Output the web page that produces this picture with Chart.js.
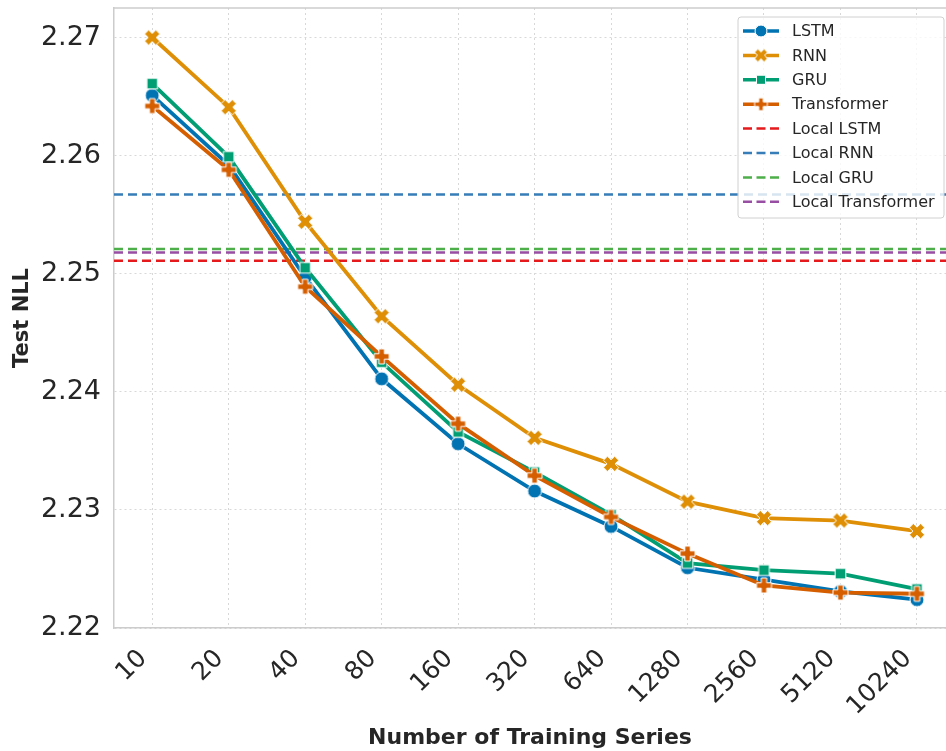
<!DOCTYPE html>
<html>
<head>
<meta charset="utf-8">
<script src="https://cdn.jsdelivr.net/npm/chart.js@4.4.1/dist/chart.umd.min.js"></script>
<style>
  html, body { margin: 0; padding: 0; background: #fff; overflow: hidden; }
</style>
</head>
<body>
<canvas id="chart" width="946" height="751"></canvas>
<script>
// ===== Data =====
const categories = ['10', '20', '40', '80', '160', '320', '640', '1280', '2560', '5120', '10240'];
const lstmValues        = [2.2651, 2.2592, 2.2497, 2.2411, 2.2356, 2.2316, 2.2286, 2.2251, 2.2241, 2.2231, 2.2224];
const rnnValues         = [2.2700, 2.2641, 2.2544, 2.2464, 2.2406, 2.2361, 2.2339, 2.2307, 2.2293, 2.2291, 2.2282];
const gruValues         = [2.2661, 2.2599, 2.2505, 2.2425, 2.2366, 2.2332, 2.2296, 2.2255, 2.2249, 2.2246, 2.2233];
const transformerValues = [2.2642, 2.2588, 2.2489, 2.2430, 2.2373, 2.2329, 2.2294, 2.2263, 2.2236, 2.2230, 2.2229];
const localNames  = ['Local LSTM', 'Local RNN', 'Local GRU', 'Local Transformer'];
const localValues = [2.2511, 2.2567, 2.2521, 2.2518];
const yTicks = [2.22, 2.23, 2.24, 2.25, 2.26, 2.27];

const localColors = ['#e41a1c', '#377eb8', '#4daf4a', '#984ea3'];
const FONT = "'DejaVu Sans', sans-serif";

// ===== Markers =====
function makeMarker(shape, color, r) {
    const s = Math.ceil(r * 2 + 4);
    const cv = document.createElement('canvas');
    cv.width = cv.height = s;
    const g = cv.getContext('2d');
    const c = s / 2;
    g.beginPath();
    if (shape === 'circle') {
        g.arc(c, c, r, 0, Math.PI * 2);
    } else if (shape === 'square') {
        g.rect(c - r * 0.82, c - r * 0.82, r * 1.64, r * 1.64);
    } else {
        const t = r * 0.36;
        const pts = [[t, r], [t, t], [r, t], [r, -t], [t, -t], [t, -r], [-t, -r], [-t, -t], [-r, -t], [-r, t], [-t, t], [-t, r]];
        const a = shape === 'x' ? Math.PI / 4 : 0;
        pts.forEach(([x, y], i) => {
            const px = c + x * Math.cos(a) - y * Math.sin(a);
            const py = c + x * Math.sin(a) + y * Math.cos(a);
            if (i) g.lineTo(px, py); else g.moveTo(px, py);
        });
        g.closePath();
    }
    g.fillStyle = color;
    g.fill();
    g.lineWidth = 1;
    g.strokeStyle = '#ffffff';
    g.stroke();
    return cv;
}

const series = [
    { label: 'LSTM', data: lstmValues, color: '#0173b2', shape: 'circle', r: 7, order: 3 },
    { label: 'RNN', data: rnnValues, color: '#de8f05', shape: 'x', r: 8, order: 2 },
    { label: 'GRU', data: gruValues, color: '#029e73', shape: 'square', r: 6.5, order: 1 },
    { label: 'Transformer', data: transformerValues, color: '#d55e00', shape: 'plus', r: 7.5, order: 0 }
];
series.forEach(s => {
    s.marker = makeMarker(s.shape, s.color, s.r);
    s.legendMarker = makeMarker(s.shape, s.color, s.r * 0.85);
});

// ===== Plugins =====
const localLines = {
    id: 'localLines',
    beforeDatasetsDraw(chart) {
        const { ctx, chartArea } = chart;
        const y = chart.scales.y;
        ctx.save();
        ctx.lineWidth = 2.5;
        ctx.setLineDash([9, 5]);
        localValues.forEach((v, i) => {
            const py = y.getPixelForValue(v);
            ctx.strokeStyle = localColors[i];
            ctx.beginPath();
            ctx.moveTo(chartArea.left, py);
            ctx.lineTo(chartArea.right, py);
            ctx.stroke();
        });
        ctx.restore();
    }
};

const frameAndLegend = {
    id: 'frameAndLegend',
    afterDraw(chart) {
        const { ctx, chartArea } = chart;
        ctx.save();
        // top frame line
        ctx.strokeStyle = '#cccccc';
        ctx.lineWidth = 1.5;
        ctx.beginPath();
        ctx.moveTo(chartArea.left, chartArea.top);
        ctx.lineTo(chartArea.right, chartArea.top);
        ctx.stroke();

        // legend box
        const bx = 738, by = 17, bw = 206, bh = 201;
        ctx.beginPath();
        ctx.roundRect(bx, by, bw, bh, 3);
        ctx.fillStyle = 'rgba(255,255,255,0.8)';
        ctx.fill();
        ctx.strokeStyle = '#d0d0d0';
        ctx.lineWidth = 1;
        ctx.stroke();

        const rows = [];
        series.forEach(s => rows.push({ label: s.label, color: s.color, marker: s.legendMarker }));
        localNames.forEach((n, i) => rows.push({ label: n, color: localColors[i], dashed: true }));

        ctx.font = '16px ' + FONT;
        ctx.textBaseline = 'middle';
        rows.forEach((row, i) => {
            const cy = 31 + i * 24.4;
            ctx.strokeStyle = row.color;
            if (row.dashed) {
                ctx.lineWidth = 2.5;
                ctx.setLineDash([9, 4.5]);
            } else {
                ctx.lineWidth = 3.5;
                ctx.setLineDash([]);
            }
            ctx.beginPath();
            ctx.moveTo(743, cy);
            ctx.lineTo(779, cy);
            ctx.stroke();
            ctx.setLineDash([]);
            if (row.marker) {
                ctx.drawImage(row.marker, 761 - row.marker.width / 2, cy - row.marker.height / 2);
            }
            ctx.fillStyle = '#262626';
            ctx.fillText(row.label, 792, cy + 1);
        });
        ctx.restore();
    }
};

function noPadding(scale) {
    scale.paddingTop = 0;
    scale.paddingBottom = 0;
    scale.paddingLeft = 0;
    scale.paddingRight = 0;
}

// ===== Chart =====
const ctx = document.getElementById('chart').getContext('2d');
new Chart(ctx, {
    type: 'line',
    data: {
        datasets: series.map(s => ({
            label: s.label,
            data: s.data.map((v, i) => ({ x: i, y: v })),
            borderColor: s.color,
            backgroundColor: s.color,
            borderWidth: 3.8,
            pointStyle: s.marker,
            pointRadius: 7,
            pointHoverRadius: 7,
            tension: 0,
            order: s.order
        }))
    },
    options: {
        responsive: false,
        animation: false,
        devicePixelRatio: 1,
        layout: { autoPadding: false, padding: { top: 8, right: 0, left: 0, bottom: 0 } },
        plugins: {
            legend: { display: false },
            tooltip: { enabled: false }
        },
        scales: {
            x: {
                type: 'linear',
                min: -0.5,
                max: 10.38,
                afterBuildTicks(scale) {
                    scale.ticks = categories.map((c, i) => ({ value: i }));
                },
                afterFit(scale) { scale.height = 123; noPadding(scale); },
                ticks: {
                    callback: (v) => categories[v],
                    minRotation: 45,
                    maxRotation: 45,
                    autoSkip: false,
                    padding: 16,
                    labelOffset: -9,
                    color: '#262626',
                    font: { family: FONT, size: 25 }
                },
                grid: { color: '#d8d8d8', lineWidth: 1, drawTicks: false },
                border: { display: true, color: '#cccccc', width: 1.5, dash: [2, 3] },
                title: {
                    display: true,
                    text: 'Number of Training Series',
                    color: '#262626',
                    font: { family: FONT, size: 22, weight: 'bold' },
                    padding: { top: 0, bottom: 0 }
                }
            },
            y: {
                min: 2.22,
                max: 2.2725,
                afterBuildTicks(scale) {
                    scale.ticks = yTicks.map(v => ({ value: v }));
                },
                afterFit(scale) { scale.width = 114; noPadding(scale); },
                ticks: {
                    callback: (v) => v.toFixed(2),
                    padding: 13,
                    color: '#262626',
                    font: { family: FONT, size: 27 }
                },
                grid: { color: '#d8d8d8', lineWidth: 1, drawTicks: false },
                border: { display: true, color: '#cccccc', width: 1.5, dash: [2, 3] },
                title: {
                    display: true,
                    text: 'Test NLL',
                    color: '#262626',
                    font: { family: FONT, size: 21, weight: 'bold' },
                    padding: { top: 10, bottom: 4 }
                }
            }
        }
    },
    plugins: [localLines, frameAndLegend]
});
</script>
</body>
</html>
